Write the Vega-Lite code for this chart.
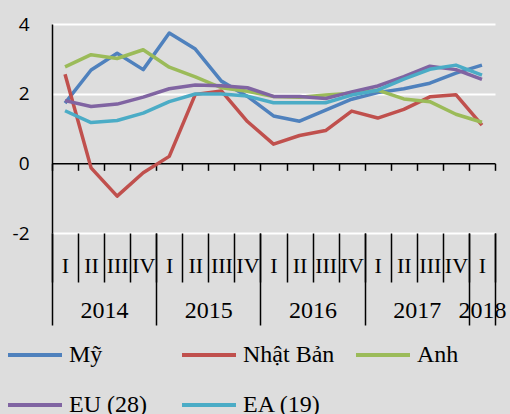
{
  "$schema": "https://vega.github.io/schema/vega-lite/v6.json",
  "width": 443,
  "height": 209,
  "autosize": {"type": "none"},
  "padding": {"left": 52, "top": 24, "right": 15, "bottom": 181},
  "background": "#dddddd",
  "config": {"view": {"stroke": null}},
  "datasets": {
    "gdp": [
      {"t": 0, "s": "Mỹ", "v": 1.73}, {"t": 1, "s": "Mỹ", "v": 2.68}, {"t": 2, "s": "Mỹ", "v": 3.16}, {"t": 3, "s": "Mỹ", "v": 2.69},
      {"t": 4, "s": "Mỹ", "v": 3.74}, {"t": 5, "s": "Mỹ", "v": 3.28}, {"t": 6, "s": "Mỹ", "v": 2.36}, {"t": 7, "s": "Mỹ", "v": 1.92},
      {"t": 8, "s": "Mỹ", "v": 1.36}, {"t": 9, "s": "Mỹ", "v": 1.21}, {"t": 10, "s": "Mỹ", "v": 1.53}, {"t": 11, "s": "Mỹ", "v": 1.84},
      {"t": 12, "s": "Mỹ", "v": 2.03}, {"t": 13, "s": "Mỹ", "v": 2.14}, {"t": 14, "s": "Mỹ", "v": 2.3}, {"t": 15, "s": "Mỹ", "v": 2.59},
      {"t": 16, "s": "Mỹ", "v": 2.82},
      {"t": 0, "s": "Nhật Bản", "v": 2.56}, {"t": 1, "s": "Nhật Bản", "v": -0.13}, {"t": 2, "s": "Nhật Bản", "v": -0.94}, {"t": 3, "s": "Nhật Bản", "v": -0.27},
      {"t": 4, "s": "Nhật Bản", "v": 0.2}, {"t": 5, "s": "Nhật Bản", "v": 1.98}, {"t": 6, "s": "Nhật Bản", "v": 2.08}, {"t": 7, "s": "Nhật Bản", "v": 1.2},
      {"t": 8, "s": "Nhật Bản", "v": 0.55}, {"t": 9, "s": "Nhật Bản", "v": 0.8}, {"t": 10, "s": "Nhật Bản", "v": 0.94}, {"t": 11, "s": "Nhật Bản", "v": 1.5},
      {"t": 12, "s": "Nhật Bản", "v": 1.3}, {"t": 13, "s": "Nhật Bản", "v": 1.55}, {"t": 14, "s": "Nhật Bản", "v": 1.91}, {"t": 15, "s": "Nhật Bản", "v": 1.97},
      {"t": 16, "s": "Nhật Bản", "v": 1.1},
      {"t": 0, "s": "Anh", "v": 2.77}, {"t": 1, "s": "Anh", "v": 3.12}, {"t": 2, "s": "Anh", "v": 3.01}, {"t": 3, "s": "Anh", "v": 3.26},
      {"t": 4, "s": "Anh", "v": 2.76}, {"t": 5, "s": "Anh", "v": 2.48}, {"t": 6, "s": "Anh", "v": 2.17}, {"t": 7, "s": "Anh", "v": 2.07},
      {"t": 8, "s": "Anh", "v": 1.92}, {"t": 9, "s": "Anh", "v": 1.9}, {"t": 10, "s": "Anh", "v": 1.96}, {"t": 11, "s": "Anh", "v": 2.01},
      {"t": 12, "s": "Anh", "v": 2.1}, {"t": 13, "s": "Anh", "v": 1.85}, {"t": 14, "s": "Anh", "v": 1.77}, {"t": 15, "s": "Anh", "v": 1.41},
      {"t": 16, "s": "Anh", "v": 1.18},
      {"t": 0, "s": "EU (28)", "v": 1.8}, {"t": 1, "s": "EU (28)", "v": 1.63}, {"t": 2, "s": "EU (28)", "v": 1.7}, {"t": 3, "s": "EU (28)", "v": 1.9},
      {"t": 4, "s": "EU (28)", "v": 2.14}, {"t": 5, "s": "EU (28)", "v": 2.25}, {"t": 6, "s": "EU (28)", "v": 2.23}, {"t": 7, "s": "EU (28)", "v": 2.17},
      {"t": 8, "s": "EU (28)", "v": 1.92}, {"t": 9, "s": "EU (28)", "v": 1.92}, {"t": 10, "s": "EU (28)", "v": 1.86}, {"t": 11, "s": "EU (28)", "v": 2.05},
      {"t": 12, "s": "EU (28)", "v": 2.22}, {"t": 13, "s": "EU (28)", "v": 2.49}, {"t": 14, "s": "EU (28)", "v": 2.79}, {"t": 15, "s": "EU (28)", "v": 2.69},
      {"t": 16, "s": "EU (28)", "v": 2.41},
      {"t": 0, "s": "EA (19)", "v": 1.51}, {"t": 1, "s": "EA (19)", "v": 1.17}, {"t": 2, "s": "EA (19)", "v": 1.23}, {"t": 3, "s": "EA (19)", "v": 1.44},
      {"t": 4, "s": "EA (19)", "v": 1.77}, {"t": 5, "s": "EA (19)", "v": 1.99}, {"t": 6, "s": "EA (19)", "v": 1.99}, {"t": 7, "s": "EA (19)", "v": 1.93},
      {"t": 8, "s": "EA (19)", "v": 1.74}, {"t": 9, "s": "EA (19)", "v": 1.74}, {"t": 10, "s": "EA (19)", "v": 1.74}, {"t": 11, "s": "EA (19)", "v": 1.96},
      {"t": 12, "s": "EA (19)", "v": 2.1}, {"t": 13, "s": "EA (19)", "v": 2.42}, {"t": 14, "s": "EA (19)", "v": 2.7}, {"t": 15, "s": "EA (19)", "v": 2.82},
      {"t": 16, "s": "EA (19)", "v": 2.53}
    ]
  },
  "data": {"name": "gdp"},
  "encoding": {
    "y": {
      "field": "v",
      "type": "quantitative",
      "scale": {"domain": [-2, 4], "nice": false, "zero": false},
      "axis": {
        "values": [-2, 0, 2, 4],
        "labelExpr": "'' + datum.value",
        "title": null,
        "grid": true,
        "gridColor": "white",
        "gridWidth": 2,
        "gridOpacity": {"condition": {"test": "datum.value === 0", "value": 0}, "value": 1},
        "domain": true,
        "domainColor": "black",
        "domainWidth": 1.5,
        "ticks": false,
        "labelPadding": 23,
        "labelFont": "Open Sans",
        "labelFontSize": 19,
        "labelColor": "black"
      }
    }
  },
  "layer": [
    {
      "mark": {"type": "line", "strokeWidth": 3.5, "strokeJoin": "round"},
      "encoding": {
        "x": {
          "field": "t",
          "type": "quantitative",
          "scale": {"domain": [-0.5, 16.5], "nice": false, "zero": false},
          "axis": {
            "orient": "bottom",
            "offset": -69.67,
            "values": [-0.5, 0.5, 1.5, 2.5, 3.5, 4.5, 5.5, 6.5, 7.5, 8.5, 9.5, 10.5, 11.5, 12.5, 13.5, 14.5, 15.5, 16.5],
            "title": null,
            "grid": false,
            "labels": false,
            "tickSize": 7,
            "tickColor": "black",
            "tickWidth": 1.5,
            "domain": true,
            "domainColor": "black",
            "domainWidth": 1.5
          }
        },
        "color": {
          "field": "s",
          "type": "nominal",
          "scale": {
            "domain": ["Mỹ", "Nhật Bản", "Anh", "EU (28)", "EA (19)"],
            "range": ["#4F81BD", "#C0504D", "#9BBB59", "#8064A2", "#4BACC6"]
          },
          "legend": {
            "title": null,
            "orient": "none",
            "legendX": -46,
            "legendY": 302,
            "direction": "horizontal",
            "columns": 3,
            "gridAlign": "all",
            "symbolType": "stroke",
            "symbolSize": 2916,
            "symbolStrokeWidth": 4,
            "labelFont": "Liberation Serif",
            "labelFontSize": 24,
            "labelColor": "black",
            "labelOffset": 5,
            "columnPadding": 13,
            "rowPadding": 9,
            "padding": 0,
            "labelLimit": 300
          }
        }
      }
    },
    {
      "mark": {"type": "point", "opacity": 0},
      "encoding": {
        "x": {
          "field": "t",
          "type": "quantitative",
          "scale": {"domain": [-0.5, 16.5], "nice": false, "zero": false},
          "axis": {
            "orient": "bottom",
            "title": null,
            "grid": false,
            "domain": false,
            "values": [-0.5, 0.5, 1.5, 2.5, 3.5, 4.5, 5.5, 6.5, 7.5, 8.5, 9.5, 10.5, 11.5, 12.5, 13.5, 14.5, 15.5, 16.5],
            "tickSize": 49,
            "tickColor": "black",
            "tickWidth": 1.5,
            "labelExpr": "datum.value > 16 ? '' : ['I','II','III','IV'][(datum.value + 0.5) % 4]",
            "labelOffset": 13.03,
            "labelPadding": -16.5,
            "labelBaseline": "middle",
            "labelAlign": "center",
            "labelFont": "Liberation Serif",
            "labelFontSize": 22,
            "labelColor": "black",
            "labelOverlap": false,
            "labelFlush": false,
            "labelBound": false
          }
        }
      }
    },
    {
      "mark": {"type": "point", "opacity": 0},
      "encoding": {
        "x": {
          "field": "t",
          "type": "quantitative",
          "scale": {"domain": [-0.5, 16.5], "nice": false, "zero": false},
          "axis": {
            "orient": "bottom",
            "title": null,
            "grid": false,
            "domain": false,
            "values": [-0.5, 1.5, 3.5, 5.5, 7.5, 9.5, 11.5, 13.5, 15.5, 16, 16.5],
            "tickSize": 92,
            "tickColor": "black",
            "tickWidth": 1.5,
            "tickOpacity": {"condition": {"test": "(datum.value + 0.5) % 4 === 0 || datum.value === 16.5", "value": 1}, "value": 0},
            "labelExpr": "datum.value === 16 ? '2018' : ((datum.value + 0.5) % 4 === 2 ? '' + (2014 + (datum.value - 1.5) / 4) : '')",
            "labelPadding": -15,
            "labelBaseline": "middle",
            "labelAlign": "center",
            "labelFont": "Liberation Serif",
            "labelFontSize": 24,
            "labelColor": "black",
            "labelOverlap": false,
            "labelFlush": false,
            "labelBound": false
          }
        }
      }
    }
  ],
  "resolve": {"axis": {"x": "independent"}}
}
